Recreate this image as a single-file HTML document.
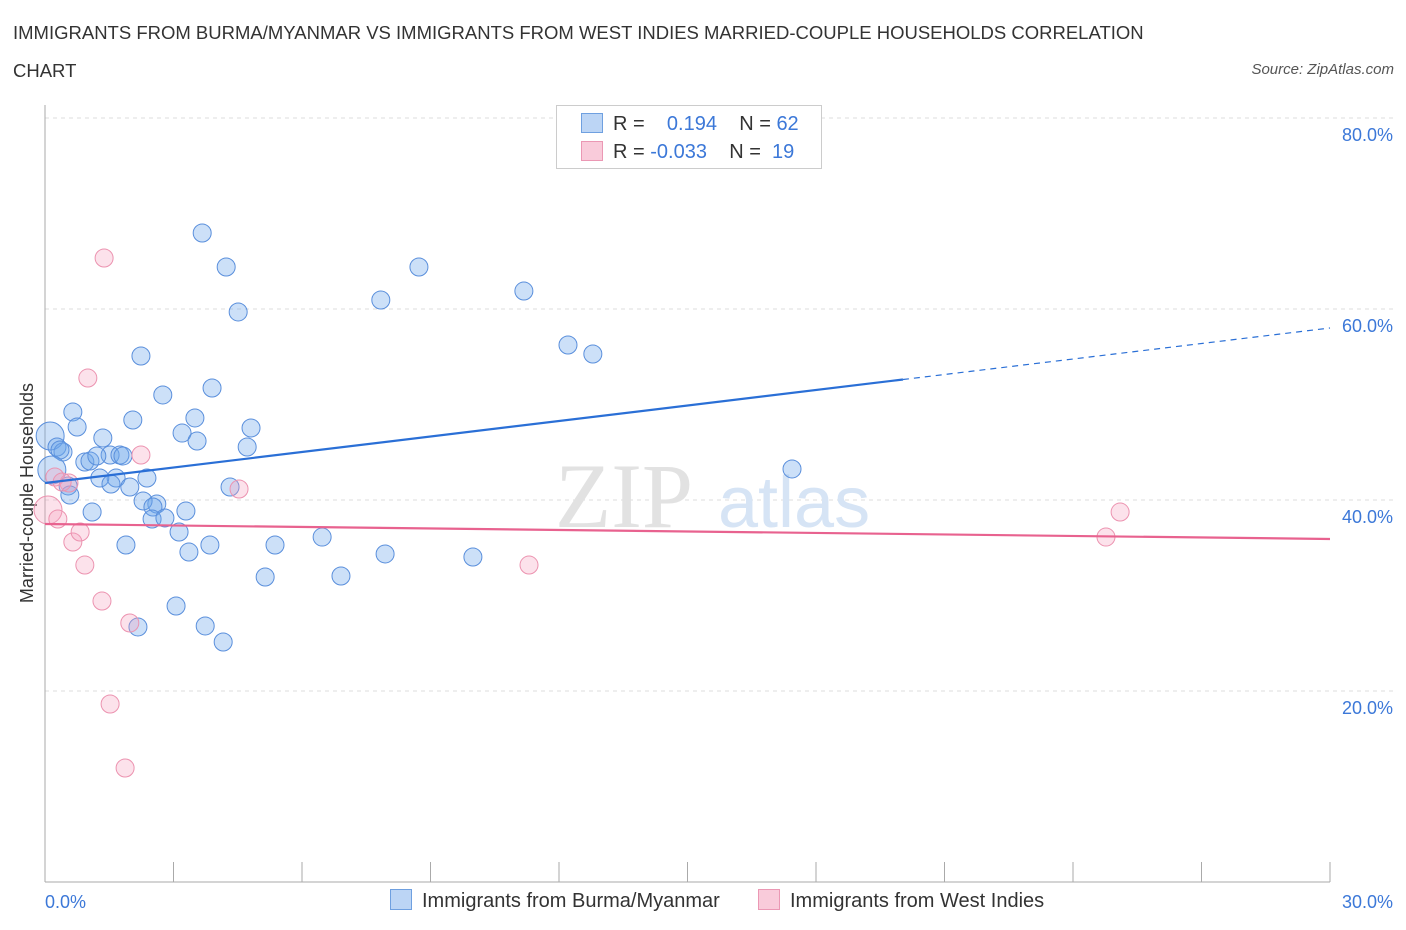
<!DOCTYPE html>
<html><head><meta charset="utf-8">
<style>
body{margin:0;background:#fff;font-family:"Liberation Sans",sans-serif;}
#wrap{position:relative;width:1406px;height:930px;overflow:hidden;}
.t{position:absolute;white-space:nowrap;}
</style></head>
<body>
<div id="wrap">
<div class="t" style="left:13px;top:14px;font-size:18.5px;color:#333;line-height:38px;width:1150px;white-space:normal;">IMMIGRANTS FROM BURMA/MYANMAR VS IMMIGRANTS FROM WEST INDIES MARRIED-COUPLE HOUSEHOLDS CORRELATION CHART</div>
<div class="t" style="right:12px;top:61px;font-size:15px;color:#555;font-style:italic;">Source: ZipAtlas.com</div>
<svg id="plot" width="1406" height="930" style="position:absolute;left:0;top:0"></svg>
</div>
<script>
const xTicks=[0,3,6,9,12,15,18,21,24,27,30];
const yTicks=[20,40,60,80];
const blueX=[3.67,4.23,8.73,4.51,7.84,11.18,12.21,12.79,2.24,3.90,2.75,0.65,2.05,3.50,0.75,3.20,4.81,1.35,3.55,4.72,0.12,0.28,0.42,0.93,1.05,1.52,1.21,1.75,1.82,2.38,1.66,1.28,1.54,1.98,0.54,0.58,4.32,17.44,2.61,2.29,2.52,3.29,1.10,2.50,2.80,3.13,1.89,3.85,5.37,6.47,3.36,7.94,9.99,5.14,6.91,3.06,3.74,2.17,4.16,0.35,0.16];
const blueY=[67.96,64.40,64.40,59.69,60.94,61.88,56.23,55.29,55.08,51.73,51.00,49.22,48.38,48.59,47.64,47.01,47.54,46.49,46.18,45.55,46.70,45.55,45.03,43.98,44.08,44.71,44.61,44.71,44.61,42.30,42.30,42.30,41.67,41.36,41.47,40.52,41.36,43.25,39.58,39.90,39.27,38.85,38.74,38.01,38.12,36.65,35.29,35.29,35.29,36.12,34.55,34.35,34.03,31.94,32.04,28.90,26.81,26.70,25.13,45.24,43.14];
const pinkX=[1.38,1.00,2.24,4.53,0.23,0.56,0.07,0.30,0.65,0.82,0.93,1.33,1.98,1.52,1.87,11.30,25.10,24.77,0.40];
const pinkY=[65.34,52.77,44.71,41.15,42.41,41.78,38.95,38.01,35.60,36.65,33.19,29.42,27.12,18.64,11.94,33.19,38.74,36.12,41.88];
const blueTrend=[41.78,58.01];
const blueSolidEnd=20.03;
const pinkTrend=[37.49,35.92];

const NS="http://www.w3.org/2000/svg";
const svg=document.getElementById('plot');
const X=v=>45+v/30*1285;
const Y=v=>882-v/20*191;
function mk(tag,attrs,parent){const e=document.createElementNS(NS,tag);for(const k in attrs)e.setAttribute(k,attrs[k]);(parent||svg).appendChild(e);return e;}

yTicks.forEach(v=>{
  const g=mk('line',{x1:45,x2:1395,y1:Y(v),y2:Y(v),stroke:'#ddd','stroke-dasharray':'4,4','stroke-width':1});
  
  
  const t=mk('text',{x:1393,y:Y(v)+23,'text-anchor':'end','font-size':18,fill:'#3c78d8','font-family':'Liberation Sans, sans-serif'});
  t.textContent=v.toFixed(1)+'%';
  
  
});
const ax=mk('line',{x1:45,x2:1330,y1:882,y2:882,stroke:'#aaa','stroke-width':1});


const ay=mk('line',{x1:45,x2:45,y1:105,y2:882,stroke:'#aaa','stroke-width':1});


xTicks.forEach(v=>{
  const l=mk('line',{x1:X(v),x2:X(v),y1:862,y2:882,stroke:'#aaa','stroke-width':1});
  
  
});
[[0,'start',45],[30,'end',1393]].forEach(([v,a,px])=>{
  const t=mk('text',{x:px,y:908,'text-anchor':a,'font-size':18,fill:'#3c78d8','font-family':'Liberation Sans, sans-serif'});
  t.textContent=v.toFixed(1)+'%';
  
  
});
const yt=mk('text',{x:33,y:493,'text-anchor':'middle','font-size':18,fill:'#333',transform:'rotate(-90 33 493)','font-family':'Liberation Sans, sans-serif'});
yt.textContent='Married-couple Households';


const wm=mk('text',{x:555,y:527,'font-size':92,fill:'#e2e2e2','font-family':'Liberation Serif, serif'});
wm.textContent='ZIP';


const wm2=mk('text',{x:718,y:527,'font-size':72,fill:'#d6e4f5','font-family':'Liberation Sans, sans-serif'});
wm2.textContent='atlas';



function pts(xs,ys,fill,stroke,name){
  xs.forEach((x,i)=>{
    const big=(x<0.2);
    const c=mk('circle',{cx:X(x),cy:Y(ys[i]),r:big?14:9,fill:fill,stroke:stroke,'stroke-width':1});
    
    
  });
}
pts(blueX,blueY,'rgba(110,165,235,0.35)','#5a8fdc','burma-point');
pts(pinkX,pinkY,'rgba(245,160,190,0.3)','#ec93b0','west-indies-point');

const bt=v=>blueTrend[0]+(blueTrend[1]-blueTrend[0])*v/30;
const b1=mk('line',{x1:X(0),y1:Y(bt(0)),x2:X(blueSolidEnd),y2:Y(bt(blueSolidEnd)),stroke:'#2a6fd6','stroke-width':2.2});


const b2=mk('line',{x1:X(blueSolidEnd),y1:Y(bt(blueSolidEnd)),x2:X(30),y2:Y(bt(30)),stroke:'#2a6fd6','stroke-width':1.2,'stroke-dasharray':'6,5'});


const p1=mk('line',{x1:X(0),y1:Y(pinkTrend[0]),x2:X(30),y2:Y(pinkTrend[1]),stroke:'#e8628f','stroke-width':2.2});


</script>

<div class="t" style="left:556px;top:105px;width:264px;height:62px;border:1px solid #ccc;background:#fff;"></div>
<div class="t" style="left:581px;top:112px;font-size:20px;color:#333;line-height:24px;">
<span style="display:inline-block;width:20px;height:18px;background:#bcd5f5;border:1px solid #6fa0e0;vertical-align:-3px;margin-right:10px"></span>R = &nbsp;<span style="color:#3c78d8">&nbsp;&nbsp;0.194</span>&nbsp;&nbsp;&nbsp; N = <span style="color:#3c78d8">62</span></div>
<div class="t" style="left:581px;top:140px;font-size:20px;color:#333;line-height:24px;">
<span style="display:inline-block;width:20px;height:18px;background:#f9cbda;border:1px solid #eb98b4;vertical-align:-3px;margin-right:10px"></span>R = <span style="color:#3c78d8">-0.033</span>&nbsp;&nbsp;&nbsp; N = &nbsp;<span style="color:#3c78d8">19</span></div>

<div class="t" style="left:390px;top:889px;font-size:20px;color:#333;">
<span style="display:inline-block;width:20px;height:19px;background:#bcd5f5;border:1px solid #6fa0e0;vertical-align:-3px;margin-right:10px"></span>Immigrants from Burma/Myanmar</div>
<div class="t" style="left:758px;top:889px;font-size:20px;color:#333;">
<span style="display:inline-block;width:20px;height:19px;background:#f9cbda;border:1px solid #eb98b4;vertical-align:-3px;margin-right:10px"></span>Immigrants from West Indies</div>
</body></html>
